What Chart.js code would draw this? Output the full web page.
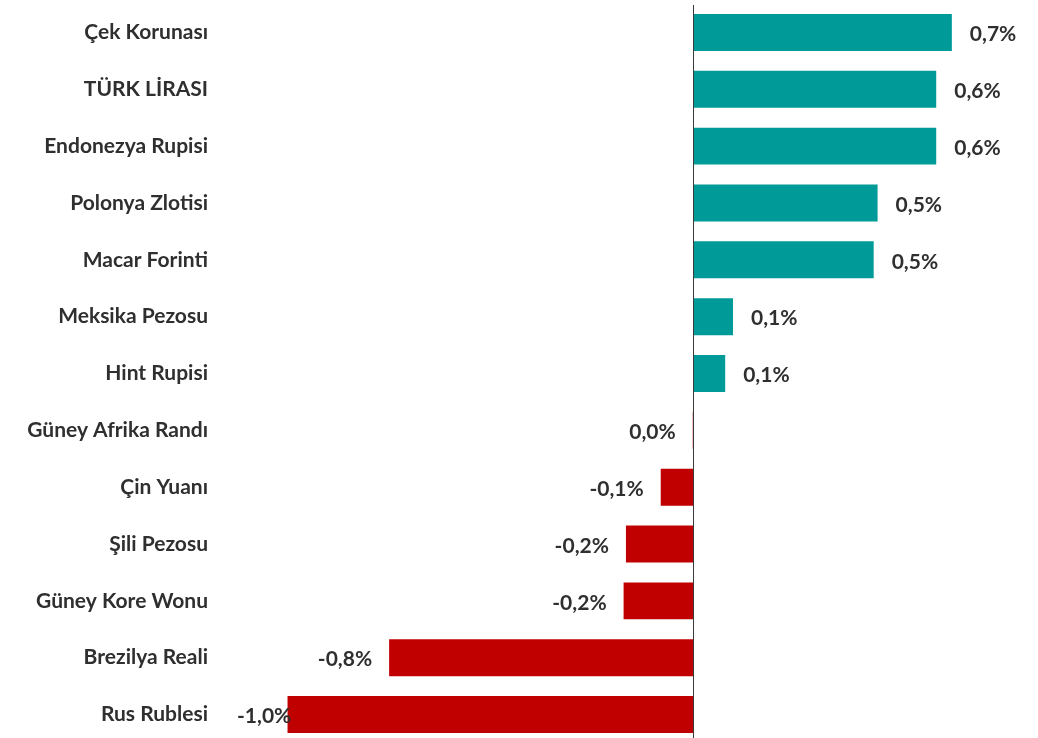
<!DOCTYPE html>
<html>
<head>
<meta charset="utf-8">
<script src="https://cdn.jsdelivr.net/npm/chart.js@4"></script>
<style>
  html, body { margin: 0; padding: 0; background: #fff; overflow: hidden; }
  #wrap { width: 1038px; height: 743px; }
</style>
</head>
<body>
<div id="wrap"><canvas id="myChart"></canvas></div>
<script>
// currencies, top to bottom
const currencies = [
    'Çek Korunası', 'TÜRK LİRASI', 'Endonezya Rupisi', 'Polonya Zlotisi',
    'Macar Forinti', 'Meksika Pezosu', 'Hint Rupisi', 'Güney Afrika Randı',
    'Çin Yuanı', 'Şili Pezosu', 'Güney Kore Wonu', 'Brezilya Reali', 'Rus Rublesi'
];
// weekly change, %
const changes = [0.66, 0.62, 0.62, 0.47, 0.46, 0.10, 0.08, -0.003, -0.085, -0.174, -0.18, -0.78, -1.04];

const TEAL = '#009B98';
const RED = '#C00000';
const FONT = 'Lato, "Open Sans", sans-serif';
const TEXT = '#2f2f2f';

function fmt(v) {
    return (Math.round(v * 10) / 10).toFixed(1).replace('.', ',').replace('-0,0', '0,0') + '%';
}

// vertical zero line + value labels
const extras = {
    id: 'extras',
    afterDatasetsDraw(chart) {
        const ctx = chart.ctx;
        const x = chart.scales.x;
        const area = chart.chartArea;
        const x0 = Math.round(x.getPixelForValue(0)) - 0.5;
        ctx.save();
        ctx.strokeStyle = '#3a3a3a';
        ctx.lineWidth = 1;
        ctx.beginPath();
        ctx.moveTo(x0, area.top + 1);
        ctx.lineTo(x0, area.bottom);
        ctx.stroke();

        ctx.font = 'bold 21px ' + FONT;
        ctx.fillStyle = TEXT;
        ctx.textBaseline = 'middle';
        const meta = chart.getDatasetMeta(0);
        meta.data.forEach((bar, i) => {
            const v = changes[i];
            const txt = fmt(v);
            const w = ctx.measureText(txt).width;
            let tx;
            if (v >= 0) {
                tx = bar.x + 18;
            } else {
                tx = bar.x - 17 - w;
                if (tx < 237) tx = 237;
            }
            ctx.textAlign = 'left';
            ctx.fillText(txt, tx, bar.y + 2);
        });
        ctx.restore();
    }
};

const ctx = document.getElementById('myChart').getContext('2d');
const myChart = new Chart(ctx, {
    type: 'bar',
    data: {
        labels: currencies,
        datasets: [{
            data: changes,
            backgroundColor: changes.map(v => v >= 0 ? TEAL : RED),
            borderWidth: 0,
            categoryPercentage: 1,
            barPercentage: 0.65
        }]
    },
    options: {
        indexAxis: 'y',
        responsive: true,
        maintainAspectRatio: false,
        animation: false,
        layout: { padding: { top: 4, right: 8, bottom: 0, left: 0 } },
        plugins: {
            legend: { display: false },
            tooltip: { enabled: false }
        },
        scales: {
            x: {
                min: -1.2,
                max: 0.86,
                display: false
            },
            y: {
                grid: { display: false, tickLength: 17 },
                border: { display: false },
                ticks: {
                    color: TEXT,
                    font: { family: FONT, size: 21, weight: 'bold' },
                    padding: 0,
                    autoSkip: false
                },
                afterFit(scale) {
                    scale.width = 225;
                    scale.paddingTop = 0;
                    scale.paddingBottom = 0;
                }
            }
        }
    },
    plugins: [extras]
});
</script>
</body>
</html>
